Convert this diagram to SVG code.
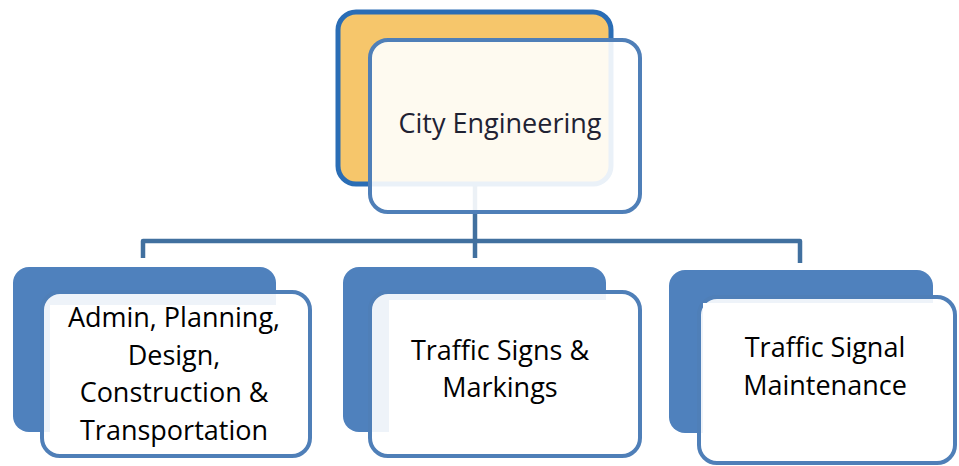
<svg xmlns="http://www.w3.org/2000/svg" width="959" height="466" viewBox="0 0 959 466">
<style>
.conn{fill:none;stroke:#41709f;stroke-width:4.5;stroke-linejoin:round}
.back{fill:#4f81bd;stroke:none}
.front{fill:#fff;fill-opacity:0.9;stroke:#4f7fb8;stroke-width:4}
.inner{fill:#fff;stroke:none}
.lbl{font-family:"Open Sans","Liberation Sans",sans-serif;font-size:27px;fill:#000;text-anchor:middle}
</style>
<rect width="959" height="466" fill="#fff"/>
<g id="connectors">
<path class="conn" d="M475,185 V258"/>
<path class="conn" d="M143,258 V241 H800 V263"/>
</g>
<g id="city-engineering">
<rect x="338" y="12" width="273" height="172" rx="18" fill="#f6c66b" stroke="#2a6db5" stroke-width="5"/>
<rect class="front" x="370" y="40" width="270" height="172" rx="18"/>
<text class="lbl" x="500" y="133" style="fill:#1f2233">City Engineering</text>
</g>
<g id="admin">
<rect class="back" x="13" y="267" width="263" height="165" rx="16"/>
<rect class="front" x="42" y="292" width="268" height="164" rx="18"/>
<rect class="inner" x="50" y="305" width="226" height="127"/>
<text class="lbl" x="174" y="327">Admin, Planning,</text>
<text class="lbl" x="174" y="365">Design,</text>
<text class="lbl" x="174" y="402">Construction &amp;</text>
<text class="lbl" x="174" y="440">Transportation</text>
</g>
<g id="signs">
<rect class="back" x="343" y="267" width="263" height="165" rx="16"/>
<rect class="front" x="370" y="292" width="270" height="164" rx="18"/>
<rect class="inner" x="389" y="300" width="217" height="132"/>
<text class="lbl" x="500" y="360">Traffic Signs &amp;</text>
<text class="lbl" x="500" y="397">Markings</text>
</g>
<g id="signal">
<rect class="back" x="669" y="270" width="264" height="163" rx="16"/>
<rect class="front" x="699" y="297" width="256" height="166" rx="18"/>
<rect class="inner" x="703" y="303" width="230" height="130"/>
<text class="lbl" x="825" y="357">Traffic Signal</text>
<text class="lbl" x="825" y="395">Maintenance</text>
</g>
</svg>
